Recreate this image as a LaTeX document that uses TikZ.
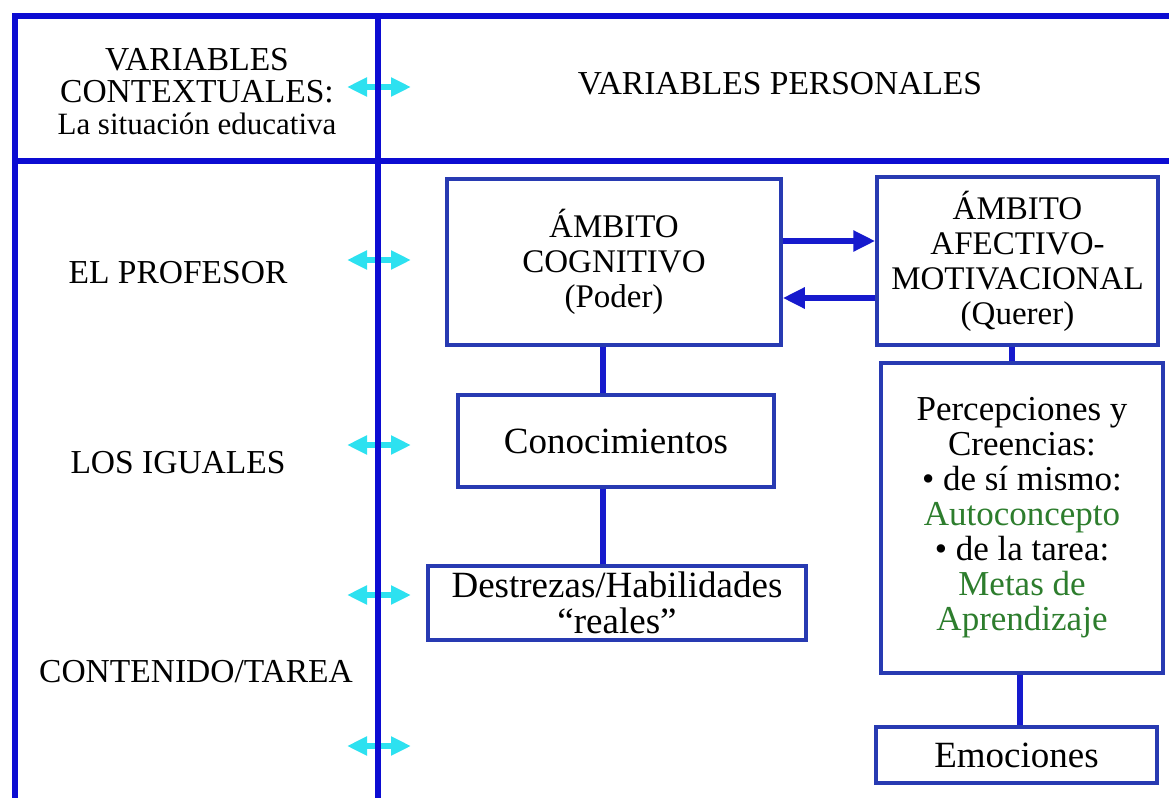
\documentclass[tikz,border=0pt]{standalone}
\usepackage{fontspec}
\setmainfont{Liberation Serif}
\usepackage{tikz}
\usetikzlibrary{positioning,arrows.meta}
\definecolor{frameblue}{RGB}{12,12,210}
\definecolor{boxblue}{RGB}{40,58,178}
\definecolor{linkblue}{RGB}{22,26,205}
\definecolor{linkcyan}{RGB}{45,225,240}
\definecolor{metagreen}{RGB}{45,125,45}
\tikzset{
  frameline/.style={draw=frameblue, line width=3.25pt},
  ambito/.style={rectangle, draw=boxblue, line width=1.75pt, align=center, inner sep=2pt,
                 font=\fontsize{16.5}{17.5}\selectfont},
  subbox/.style={ambito, font=\fontsize{17.5}{17.5}\selectfont},
  bigbox/.style={ambito, inner sep=1pt, font=\fontsize{18.5}{18}\selectfont},
  sidetext/.style={align=center, inner sep=0pt, font=\fontsize{16.75}{16}\selectfont},
  link/.style={draw=linkblue, line width=3pt},
  fwd/.style={-{Triangle[length=11pt, width=10pt]}, draw=linkblue, line width=3pt},
  twoway/.style={{Triangle[length=10pt, width=9pt]}-{Triangle[length=10pt, width=9pt]},
                 draw=linkcyan, line width=2.75pt}, % contexto <-> persona
}

\begin{document}
\begin{tikzpicture}[x=0.5pt, y=-0.5pt]
  \useasboundingbox (0,0) rectangle (1169,798);

  \coordinate (c1l) at (347,87);  \coordinate (c1r) at (411,87);
  \coordinate (c2l) at (347,260); \coordinate (c2r) at (411,260);
  \coordinate (c3l) at (347,445); \coordinate (c3r) at (411,445);
  \coordinate (c4l) at (347,595); \coordinate (c4r) at (411,595);
  \coordinate (c5l) at (347,746); \coordinate (c5r) at (411,746);
  \draw[twoway] (c1l) -- (c1r);
  \draw[twoway] (c2l) -- (c2r);
  \draw[twoway] (c3l) -- (c3r);
  \draw[twoway] (c4l) -- (c4r);
  \draw[twoway] (c5l) -- (c5r);

  \draw[frameline] (15,798) -- (15,16) -- (1169,16);
  \draw[frameline] (15,161) -- (1169,161);
  \draw[frameline] (378,16) -- (378,798);

  \node[sidetext] (ctx) at (197,92) {VARIABLES\\CONTEXTUALES:\\{\fontsize{15.5}{15.5}\selectfont La situación educativa}};
  \node[sidetext] (pers) at (780,84) {VARIABLES PERSONALES};
  \node[sidetext] (prof) at (178,273) {EL PROFESOR};
  \node[sidetext] (igua) at (178,463) {LOS IGUALES};
  \node[sidetext] (cont) at (196,672) {CONTENIDO/TAREA};

  \node[ambito, minimum width=167pt, minimum height=83pt] (cog) at (614,262) {ÁMBITO\\COGNITIVO\\(Poder)};
  \node[ambito, minimum width=140.5pt, minimum height=84pt] (afe) at (1017.5,261) {ÁMBITO\\AFECTIVO-\\MOTIVACIONAL\\(Querer)};
  \node[bigbox, minimum width=158pt, minimum height=46pt] (con) at (616,441) {Conocimientos};
  \node[bigbox, inner ysep=3pt, minimum width=189pt, minimum height=32pt] (des) at (617,603) {Destrezas/Habilidades\\“reales”};
  \node[subbox, minimum width=141pt, minimum height=155pt] (per) at (1022,518)
    {Percepciones y\\Creencias:\\\textbullet{} de sí mismo:\\\textcolor{metagreen}{Autoconcepto}\\\textbullet{} de la tarea:\\\textcolor{metagreen}{Metas de}\\\textcolor{metagreen}{Aprendizaje}};
  \node[bigbox, minimum width=140.5pt, minimum height=28pt] (emo) at (1016.5,755) {Emociones};

  \draw[fwd] ([yshift=10.5pt]cog.east) -- ([yshift=10pt]afe.west);
  \draw[fwd] ([yshift=-18.5pt]afe.west) -- ([yshift=-18pt]cog.east);
  \draw[link] ([xshift=-5.5pt]cog.south) -- ([xshift=-6.5pt]con.north);
  \draw[link] ([xshift=-6.5pt]con.south) -- ([xshift=-7pt]des.north);
  \draw[link] ([xshift=-2.75pt]afe.south) -- ([xshift=-5pt]per.north);
  \draw[link] ([xshift=-1pt]per.south) -- ([xshift=1.75pt]emo.north);
\end{tikzpicture}
\end{document}
